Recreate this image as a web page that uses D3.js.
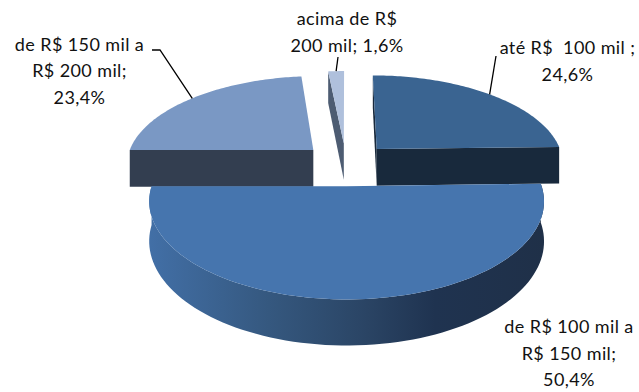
<!DOCTYPE html>
<html>
<head>
<meta charset="utf-8">
<script src="https://cdn.jsdelivr.net/npm/d3@7/dist/d3.min.js"></script>
<style>
html,body{margin:0;padding:0;background:#fff}
svg{display:block}
text{font-family:Lato,"Open Sans",sans-serif;font-size:18px;letter-spacing:0.4px;fill:#111}
</style>
</head>
<body>
<div id="chart"></div>
<script>
// Income bands and their shares, in drawing order around the pie (clockwise from 12 o'clock)
const categories = ["até R$ 100 mil", "de R$ 100 mil a R$ 150 mil", "de R$ 150 mil a R$ 200 mil", "acima de R$ 200 mil"];
const shares = [24.6, 50.4, 23.4, 1.6];
const labelLines = [
  ["até R$  100 mil ;", "24,6%"],
  ["de R$ 100 mil a", "R$ 150 mil;", "50,4%"],
  ["de R$ 150 mil a", "R$ 200 mil;", "23,4%"],
  ["acima de R$", "200 mil; 1,6%"]
];
const topColors = ["#3a6491", "#4675ae", "#7a98c4", "#afc0dc"];
const wallColors = ["#18293c", "#24405f", "#333e50", "#4d5c72"];
const labelAnchors = [[567.5, 54], [569, 333], [79.5, 50.5], [347, 25]];

const W = 639, H = 392;
const cx = 346, cy = 164, R = 188, K = 88.9, P = 0.15, DEPTH = 37.5, EXPLODE = 0.24, LINE_GAP = 26.6;

const svg = d3.select("#chart").append("svg").attr("width", W).attr("height", H);

const arcs = d3.pie().sort(null).value(d => d)(shares);

// Perspective projection of a point on the disc plane; v grows toward the viewer
const project = (u, v, drop = 0) => {
  const s = 1 / (1 - P * v);
  return [cx + R * u * s, cy + K * v * s + drop * s];
};
const offset = a => {
  const mid = (a.startAngle + a.endAngle) / 2;
  return [EXPLODE * Math.sin(mid), -EXPLODE * Math.cos(mid)];
};
const rimPoint = (a, ang, drop = 0) => {
  const [du, dv] = offset(a);
  return project(du + Math.sin(ang), dv - Math.cos(ang), drop);
};
const apexPoint = (a, drop = 0) => {
  const [du, dv] = offset(a);
  return project(du, dv, drop);
};
const rimPoints = (a, drop = 0, n = 90) =>
  d3.range(n + 1).map(i => rimPoint(a, a.startAngle + (a.endAngle - a.startAngle) * i / n, drop));
const line = d3.line();

// Shading across the curved outer wall of the large slice
const grad = svg.append("defs").append("linearGradient")
  .attr("id", "wall").attr("gradientUnits", "userSpaceOnUse")
  .attr("x1", 150).attr("x2", 546).attr("y1", 0).attr("y2", 0);
[[0, "#426fa6"], [0.3, "#35587f"], [0.55, "#2a4464"], [0.72, "#1f3350"], [1, "#1f3048"]]
  .forEach(([o, c]) => grad.append("stop").attr("offset", o).attr("stop-color", c));

// Flat wall between the apex and a rim angle
const radialWall = (g, a, ang, fill) => g.append("path")
  .attr("d", line([apexPoint(a), rimPoint(a, ang), rimPoint(a, ang, DEPTH), apexPoint(a, DEPTH)]) + "Z")
  .attr("fill", fill);

// Painted from back to front: thin slice, left, right, then the large slice
[3, 2, 0, 1].forEach(i => {
  const a = arcs[i];
  const g = svg.append("g");
  if (i === 1) {
    const upper = rimPoints(a), lower = rimPoints(a, DEPTH).reverse();
    g.append("path").attr("d", line(upper.concat(lower)) + "Z").attr("fill", "url(#wall)");
  } else {
    radialWall(g, a, a.startAngle, wallColors[i]);
    if (i === 0) radialWall(g, a, a.endAngle, wallColors[i]);
  }
  g.append("path")
    .attr("d", line([apexPoint(a)].concat(rimPoints(a))) + "Z")
    .attr("fill", topColors[i]);
});

// Leader lines run from the rim at each slice's mid-angle up to its label
const leaders = [
  { slice: 0, path: [[496, 56]] },
  { slice: 2, path: [[152, 50], [160, 50]] },
  { slice: 3, path: [[338, 57]] }
];
leaders.forEach(({ slice, path }) => {
  const a = arcs[slice];
  const end = rimPoint(a, (a.startAngle + a.endAngle) / 2);
  svg.append("path").attr("d", line(path.concat([end]))).attr("fill", "none")
    .attr("stroke", "#000").attr("stroke-width", 1.3);
});

// Category labels
labelLines.forEach((lines, i) => {
  const t = svg.append("text").attr("text-anchor", "middle");
  lines.forEach((s, j) => t.append("tspan")
    .attr("x", labelAnchors[i][0])
    .attr("y", labelAnchors[i][1] + j * LINE_GAP)
    .attr("xml:space", "preserve")
    .text(s));
});
</script>
</body>
</html>
